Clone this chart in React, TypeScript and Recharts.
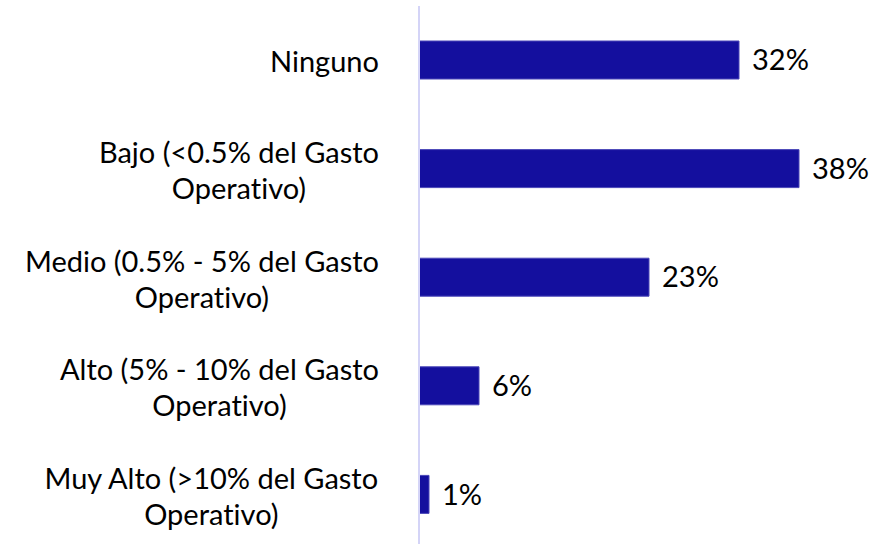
import React from "react";
import { BarChart, Bar, XAxis, YAxis, LabelList } from "recharts";

const categories = [
  "Ninguno",
  "Bajo (<0.5% del Gasto|Operativo)",
  "Medio (0.5% - 5% del Gasto|Operativo)",
  "Alto (5% - 10% del Gasto|Operativo)",
  "Muy Alto (>10% del Gasto|Operativo)",
];
const values = [32, 38, 23, 6, 1];

const data = categories.map((c, i) => ({ name: c, value: values[i] }));

const FONT = "Lato, 'Liberation Sans', sans-serif";
const FONT_SIZE = 29;

let ctx: CanvasRenderingContext2D | null = null;
const measure = (s: string) => {
  if (!ctx) {
    const c = document.createElement("canvas");
    ctx = c.getContext("2d");
  }
  if (!ctx) return s.length * FONT_SIZE * 0.5;
  ctx.font = `${FONT_SIZE}px ${FONT}`;
  return ctx.measureText(s).width;
};

const Tick = (props: any) => {
  const { y, payload } = props;
  const lines: string[] = String(payload.value).split("|");
  const lh = 36;
  const start = -((lines.length - 1) * lh) / 2;
  const maxW = Math.max(...lines.map(measure));
  const cx = 379 - maxW / 2;
  return (
    <text
      x={cx}
      y={y}
      textAnchor="middle"
      fontFamily={FONT}
      fontSize={FONT_SIZE}
      fill="#000"
      dominantBaseline="central"
      style={{ fontVariantLigatures: "none" }}
    >
      {lines.map((l, i) => (
        <tspan key={i} x={cx} y={y + start + i * lh} dominantBaseline="central">
          {l}
        </tspan>
      ))}
    </text>
  );
};

export default function App() {
  return (
    <div style={{ position: "absolute", left: 0, top: 0, background: "#fff" }}>
      <BarChart
        width={877}
        height={552}
        data={data}
        layout="vertical"
        margin={{ top: 6, right: 8, bottom: 3, left: 0 }}
      >
        <XAxis type="number" domain={[0, 45]} hide />
        <YAxis
          type="category"
          dataKey="name"
          width={419}
          axisLine={{ stroke: "#d4d4f7", strokeWidth: 2 }}
          tickLine={false}
          tick={<Tick />}
          interval={0}
        />
        <Bar
          dataKey="value"
          fill="#140f9e"
          stroke="#4a47b8"
          strokeWidth={1}
          barSize={38}
          isAnimationActive={false}
        >
          <LabelList
            dataKey="value"
            position="right"
            offset={13}
            formatter={(v: any) => `${v}%`}
            style={{ fontFamily: FONT, fontSize: FONT_SIZE, fill: "#000" }}
          />
        </Bar>
      </BarChart>
    </div>
  );
}
